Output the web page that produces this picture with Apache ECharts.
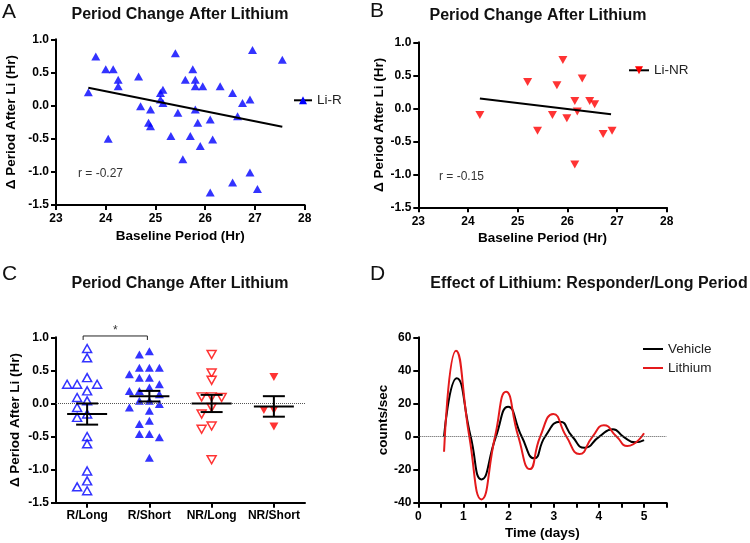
<!DOCTYPE html>
<html><head><meta charset="utf-8">
<script src="https://cdn.jsdelivr.net/npm/echarts@6/dist/echarts.min.js"></script>
<style>html,body{margin:0;padding:0;background:#fff}#c{width:750px;height:543px}</style>
</head><body><div id="c"></div>
<script>
// ---------- Panel A: Li-R ----------
const baselineLiR = [23.65,23.80,24.00,24.15,24.25,24.25,24.05,24.66,24.70,24.90,24.86,24.90,25.10,25.15,25.10,25.15,25.40,25.45,25.31,25.55,25.60,25.75,25.80,25.80,25.95,25.80,25.85,25.70,25.90,26.10,26.15,26.10,26.30,26.55,26.75,26.90,26.65,26.55,26.90,27.05,26.95,27.55];
const deltaLiR = [0.20,0.74,0.55,0.55,0.39,0.29,-0.50,0.44,-0.01,-0.06,-0.26,-0.31,0.19,0.24,0.09,0.04,0.79,-0.11,-0.46,-0.81,0.39,0.55,0.39,0.29,0.29,-0.06,-0.26,-0.46,-0.61,-0.21,-0.51,-1.31,0.29,0.19,0.04,0.09,-0.16,-1.16,-1.01,-1.26,0.84,0.69];
const fitLiRX = [23.65, 27.55];
const fitLiRY = [0.27, -0.32];
const rLiR = 'r = -0.27';

// ---------- Panel B: Li-NR ----------
const baselineLiNR = [24.24,25.20,25.40,25.79,25.91,25.70,25.99,26.15,26.20,26.30,26.15,26.45,26.55,26.72,26.90];
const deltaLiNR = [-0.10,0.40,-0.34,0.35,0.73,-0.10,-0.15,0.11,-0.05,0.45,-0.85,0.11,0.06,-0.39,-0.34];
const fitLiNRX = [24.24, 26.88];
const fitLiNRY = [0.15, -0.09];
const rLiNR = 'r = -0.15';

// ---------- Panel C: groups ----------
const groups = ['R/Long','R/Short','NR/Long','NR/Short'];
const rLong = [0.83,0.69,0.39,0.29,0.29,0.29,0.19,0.09,0.04,-0.06,-0.16,-0.21,-0.50,-0.61,-1.02,-1.17,-1.26,-1.32];
const rShort = [0.79,0.74,0.54,0.54,0.54,0.44,0.39,0.39,0.29,0.19,0.24,0.19,0.14,-0.01,0.04,0.04,-0.06,-0.11,-0.31,-0.26,-0.46,-0.46,-0.51,-0.82];
const nrLong = [0.74,0.46,0.35,0.10,0.09,0.10,-0.06,-0.16,-0.34,-0.39,-0.85];
const nrShort = [0.40,-0.10,-0.10,-0.35];
const groupMean = [-0.16, 0.11, 0.00, -0.045];
const groupSem = [0.16, 0.08, 0.13, 0.155];
const sigPair = [0, 1];
const sigLevel = 1.02;

// ---------- Panel D: damped rhythms ----------
const timeVehicle = [0.57,0.85,1.16,1.40,1.72,1.99,2.29,2.57,2.81,3.14,3.41,3.68,4.01,4.31,4.54,4.80,5.00];
const countsVehicle = [0,35.2,0,-25.9,0,18.0,0,-13.2,0,9.0,0,-6.8,0,4.4,0,-3.5,-2.1];
const timeLithium = [0.57,0.835,1.13,1.40,1.70,1.943,2.215,2.47,2.70,2.99,3.28,3.57,3.86,4.11,4.39,4.63,5.00];
const countsLithium = [-9.2,51.9,0,-38.0,0,27.1,0,-19.7,0,13.6,0,-10.6,0,6.8,0,-5.7,2.0];

// ---------- styling ----------
const FONT = '"Liberation Sans", Arial, Helvetica, sans-serif';
const BLUE = '#0000FF', RED = '#FF0000', DRED = '#E41A1C';
const GRIDS = [
  {left:56, top:39.3, width:248.7, height:165.7},
  {left:418.3, top:42.3, width:248.4, height:165},
  {left:56, top:337.3, width:249, height:165.4},
  {left:418.3, top:337.3, width:248.3, height:165.4}
];
const zip = (a, b) => a.map((v, i) => [v, b[i]]);

function axisBase(extra) {
  return Object.assign({
    axisLine: {show: true, onZero: false, lineStyle: {color: '#000', width: 2}},
    axisTick: {show: true, length: 5, lineStyle: {color: '#000', width: 2}},
    splitLine: {show: false},
    axisLabel: {color: '#000', fontWeight: 'bold', fontSize: 12, fontFamily: FONT, margin: 8},
    nameLocation: 'middle',
    nameTextStyle: {color: '#000', fontWeight: 'bold', fontSize: 13.5, fontFamily: FONT}
  }, extra);
}
const f1 = v => v.toFixed(1);

// beeswarm offsets (pixels) so points with similar values sit side by side
function swarm(vals, pxPerUnit) {
  const order = vals.map((v, i) => i).sort((a, b) => vals[b] - vals[a]);
  const cands = [0];
  for (let k = 1; k < 8; k++) cands.push(-5 * k, 5 * k);
  const placed = [], off = new Array(vals.length).fill(0);
  order.forEach(i => {
    const y = vals[i] * pxPerUnit;
    for (const c of cands) {
      if (placed.every(p => Math.abs(p.x - c) >= 10 || Math.abs(p.y - y) >= 7)) {
        off[i] = c; placed.push({x: c, y: y}); break;
      }
    }
  });
  return off;
}
const pxC = GRIDS[2].height / 2.5;
function groupData(vals, idx) {
  const off = swarm(vals, pxC);
  return vals.map((v, i) => ({value: [idx, v], symbolOffset: [off[i], 0]}));
}
const zeroLine = {silent: true, symbol: 'none', label: {show: false},
  lineStyle: {type: 'dotted', color: '#555', width: 1}, data: [{yAxis: 0}]};
const lblY = extra => Object.assign({color: '#000', fontWeight: 'bold', fontSize: 12, fontFamily: FONT, margin: 7}, extra);

const option = {
  animation: false,
  backgroundColor: '#fff',
  textStyle: {fontFamily: FONT},
  grid: GRIDS,
  xAxis: [
    axisBase({gridIndex: 0, type: 'value', min: 23, max: 28, interval: 1, name: 'Baseline Period (Hr)', nameGap: 24}),
    axisBase({gridIndex: 1, type: 'value', min: 23, max: 28, interval: 1, name: 'Baseline Period (Hr)', nameGap: 24}),
    axisBase({gridIndex: 2, type: 'category', data: groups,
      axisTick: {show: true, alignWithLabel: true, length: 5, lineStyle: {color: '#000', width: 2}},
      axisLabel: lblY({interval: 0, margin: 7})}),
    axisBase({gridIndex: 3, type: 'value', min: 0, max: 5.5, interval: 0.5, name: 'Time (days)', nameGap: 24,
      axisLabel: lblY({margin: 8, formatter: v => (Math.abs(v % 1) < 1e-9 ? String(v) : '')})})
  ],
  yAxis: [
    axisBase({gridIndex: 0, type: 'value', min: -1.5, max: 1.0, interval: 0.5, name: 'Δ Period After Li (Hr)', nameGap: 38, axisLabel: lblY({formatter: f1})}),
    axisBase({gridIndex: 1, type: 'value', min: -1.5, max: 1.0, interval: 0.5, name: 'Δ Period After Li (Hr)', nameGap: 31, axisLabel: lblY({formatter: f1})}),
    axisBase({gridIndex: 2, type: 'value', min: -1.5, max: 1.0, interval: 0.5, name: 'Δ Period After Li (Hr)', nameGap: 34, axisLabel: lblY({formatter: f1})}),
    axisBase({gridIndex: 3, type: 'value', min: -40, max: 60, interval: 20, name: 'counts/sec', nameGap: 27, axisLabel: lblY({})})
  ],
  legend: [
    {data: ['Li-R'], left: 293, top: 93.3, padding: 0, itemWidth: 18, itemHeight: 10,
     textStyle: {fontSize: 13.5, color: '#222', fontFamily: FONT}},
    {data: ['Li-NR'], left: 628, top: 63.3, padding: 0, itemWidth: 20, itemHeight: 10,
     textStyle: {fontSize: 13.5, color: '#222', fontFamily: FONT}},
    {data: ['Vehicle', 'Lithium'], orient: 'vertical', left: 643, top: 342, padding: 0,
     icon: 'rect', itemWidth: 20, itemHeight: 2, itemGap: 5,
     textStyle: {fontSize: 13.5, color: '#222', fontFamily: FONT}}
  ],
  series: [
    {name: 'Li-R', type: 'line', xAxisIndex: 0, yAxisIndex: 0, data: zip(fitLiRX, fitLiRY),
     symbol: 'triangle', symbolSize: [9, 8], showSymbol: false, lineStyle: {color: '#000', width: 2},
     itemStyle: {color: BLUE}, z: 3},
    {name: 'Li-R', type: 'scatter', xAxisIndex: 0, yAxisIndex: 0, data: zip(baselineLiR, deltaLiR),
     symbol: 'triangle', symbolSize: [9, 8], itemStyle: {color: BLUE}, z: 2},
    {name: 'Li-NR', type: 'line', xAxisIndex: 1, yAxisIndex: 1, data: zip(fitLiNRX, fitLiNRY),
     symbol: 'triangle', symbolRotate: 180, symbolSize: [9, 8], showSymbol: false, lineStyle: {color: '#000', width: 2},
     itemStyle: {color: RED}, z: 3},
    {name: 'Li-NR', type: 'scatter', xAxisIndex: 1, yAxisIndex: 1, data: zip(baselineLiNR, deltaLiNR),
     symbol: 'triangle', symbolRotate: 180, symbolSize: [9, 8], itemStyle: {color: RED}, z: 2},
    {name: 'R/Long', type: 'scatter', xAxisIndex: 2, yAxisIndex: 2, data: groupData(rLong, 0),
     symbol: 'triangle', symbolSize: [9, 8], itemStyle: {color: '#fff', borderColor: BLUE, borderWidth: 1.5},
     markLine: zeroLine},
    {name: 'R/Short', type: 'scatter', xAxisIndex: 2, yAxisIndex: 2, data: groupData(rShort, 1),
     symbol: 'triangle', symbolSize: [9, 8], itemStyle: {color: BLUE}},
    {name: 'NR/Long', type: 'scatter', xAxisIndex: 2, yAxisIndex: 2, data: groupData(nrLong, 2),
     symbol: 'triangle', symbolRotate: 180, symbolSize: [9, 8], itemStyle: {color: '#fff', borderColor: RED, borderWidth: 1.5}},
    {name: 'NR/Short', type: 'scatter', xAxisIndex: 2, yAxisIndex: 2, data: groupData(nrShort, 3),
     symbol: 'triangle', symbolRotate: 180, symbolSize: [9, 8], itemStyle: {color: RED}},
    {name: 'mean', type: 'custom', xAxisIndex: 2, yAxisIndex: 2, z: 5,
     data: groupMean.map((m, i) => [i, m, groupSem[i]]), encode: {x: 0, y: 1},
     renderItem: function (params, api) {
       const i = api.value(0), m = api.value(1), s = api.value(2);
       const c = api.coord([i, m]), t = api.coord([i, m + s]), b = api.coord([i, m - s]);
       const st = {stroke: '#000', lineWidth: 2};
       return {type: 'group', children: [
         {type: 'line', shape: {x1: c[0] - 20, y1: c[1], x2: c[0] + 20, y2: c[1]}, style: st},
         {type: 'line', shape: {x1: c[0], y1: t[1], x2: c[0], y2: b[1]}, style: st},
         {type: 'line', shape: {x1: c[0] - 11, y1: t[1], x2: c[0] + 11, y2: t[1]}, style: st},
         {type: 'line', shape: {x1: c[0] - 11, y1: b[1], x2: c[0] + 11, y2: b[1]}, style: st}
       ]};
     }},
    {name: 'sig', type: 'custom', xAxisIndex: 2, yAxisIndex: 2, z: 5,
     data: [[sigPair[0], sigLevel, sigPair[1]]], encode: {x: 0, y: 1},
     renderItem: function (params, api) {
       const a = api.coord([api.value(0), api.value(1)]);
       const b = api.coord([api.value(2), api.value(1)]);
       const st = {stroke: '#222', lineWidth: 1};
       return {type: 'group', children: [
         {type: 'polyline', shape: {points: [[a[0] - 4, a[1] + 4], [a[0] - 4, a[1]], [b[0] - 2, b[1]], [b[0] - 2, b[1] + 4]]}, style: Object.assign({fill: null}, st)},
         {type: 'text', style: {text: '*', x: (a[0] + b[0]) / 2 - 3, y: a[1] - 5, align: 'center', verticalAlign: 'middle', fontSize: 12, fill: '#333', fontFamily: FONT}}
       ]};
     }},
    {name: 'Vehicle', type: 'line', xAxisIndex: 3, yAxisIndex: 3, data: zip(timeVehicle, countsVehicle),
     smooth: 0.55, symbol: 'none', lineStyle: {color: '#000', width: 2}, itemStyle: {color: '#000'}, z: 3,
     markLine: zeroLine},
    {name: 'Lithium', type: 'line', xAxisIndex: 3, yAxisIndex: 3, data: zip(timeLithium, countsLithium),
     smooth: 0.55, symbol: 'none', lineStyle: {color: DRED, width: 2}, itemStyle: {color: DRED}, z: 4}
  ],
  graphic: [
    {type: 'text', left: 2, top: 2, style: {text: 'A', fontSize: 21, fill: '#111', fontFamily: FONT}},
    {type: 'text', left: 370, top: 1, style: {text: 'B', fontSize: 21, fill: '#111', fontFamily: FONT}},
    {type: 'text', left: 2, top: 264, style: {text: 'C', fontSize: 21, fill: '#111', fontFamily: FONT}},
    {type: 'text', left: 370, top: 264, style: {text: 'D', fontSize: 21, fill: '#111', fontFamily: FONT}},
    {type: 'text', x: 180, y: 14.5, style: {text: 'Period Change After Lithium', align: 'center', verticalAlign: 'middle', fontSize: 16, fontWeight: 'bold', fill: '#111', fontFamily: FONT}},
    {type: 'text', x: 538, y: 16, style: {text: 'Period Change After Lithium', align: 'center', verticalAlign: 'middle', fontSize: 16, fontWeight: 'bold', fill: '#111', fontFamily: FONT}},
    {type: 'text', x: 180, y: 283.5, style: {text: 'Period Change After Lithium', align: 'center', verticalAlign: 'middle', fontSize: 16, fontWeight: 'bold', fill: '#111', fontFamily: FONT}},
    {type: 'text', x: 589, y: 284, style: {text: 'Effect of Lithium: Responder/Long Period', align: 'center', verticalAlign: 'middle', fontSize: 16, fontWeight: 'bold', fill: '#111', fontFamily: FONT}},
    {type: 'text', x: 78, y: 173.3, style: {text: rLiR, align: 'left', verticalAlign: 'middle', fontSize: 12, fill: '#333', fontFamily: FONT}},
    {type: 'text', x: 439, y: 176.7, style: {text: rLiNR, align: 'left', verticalAlign: 'middle', fontSize: 12, fill: '#333', fontFamily: FONT}}
  ]
};
const chart = echarts.init(document.getElementById('c'));
chart.setOption(option);
</script></body></html>
